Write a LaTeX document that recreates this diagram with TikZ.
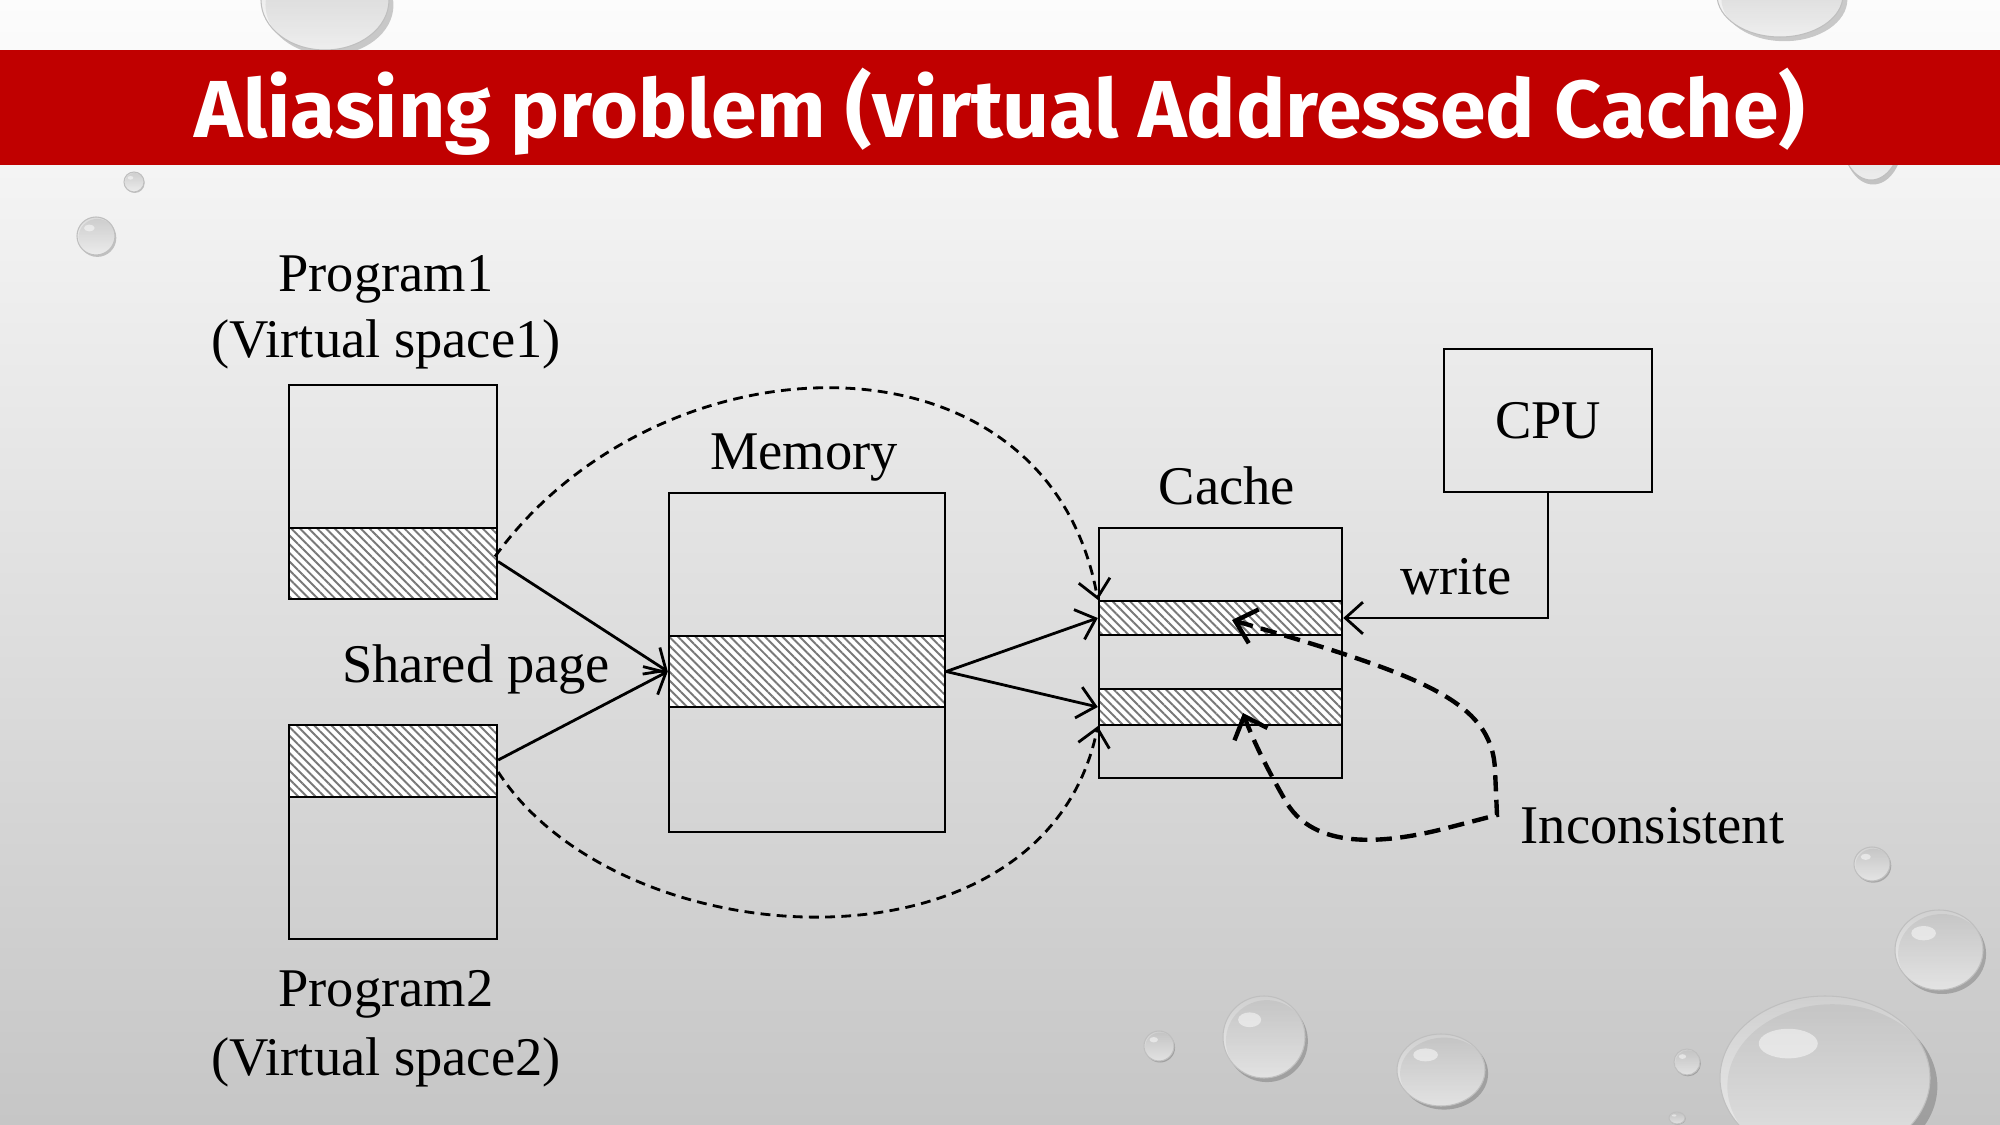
\documentclass[tikz,border=0pt]{standalone}
\usepackage{graphicx}
\usepackage{fontspec}
\setmainfont{Liberation Serif}
\newfontfamily\titlefont{Fira Sans}
\usetikzlibrary{arrows.meta,patterns.meta,calc}

\definecolor{bandred}{RGB}{192,0,0}
\definecolor{bgtop}{RGB}{252,252,252}
\definecolor{bgbot}{RGB}{198,198,198}
\definecolor{hatchgray}{RGB}{120,120,120}

\tikzset{
  labeltext/.style={font=\fontsize{15.5}{18}\selectfont, inner sep=0pt, anchor=base},
  block/.style={draw, line width=0.65pt, rectangle, inner sep=0pt},
  hatched/.style={block, preaction={fill=white},
    pattern={Lines[angle=-45,distance=1.75pt,line width=0.55pt]}, pattern color=hatchgray},
  link/.style={line width=0.8pt, -{Straight Barb[length=5pt,width=9pt]}},
  dlink/.style={link, dash pattern=on 2.8pt off 1.8pt},
  thickdash/.style={line width=1.25pt, dash pattern=on 4.6pt off 2.4pt,
    {Straight Barb[length=5.5pt,width=10pt]}-{Straight Barb[length=5.5pt,width=10pt]}},
}

% water droplet: centre x, centre y, x radius, y radius (all in px units)
\newcommand{\waterdrop}[4]{%
  \fill[black, opacity=0.2] (#1+0.07*#3, #2+0.10*#4)
    ellipse [x radius={#3*0.01cm}, y radius={#4*0.01cm}];
  \shade[top color=gray!35, bottom color=white, opacity=0.7] (#1,#2)
    ellipse [x radius={#3*0.01cm}, y radius={#4*0.01cm}];
  \draw[gray!50, line width=0.3pt] (#1,#2)
    ellipse [x radius={#3*0.01cm}, y radius={#4*0.01cm}];
  \fill[white, opacity=0.5] (#1-0.35*#3, #2-0.42*#4)
    ellipse [x radius={#3*0.0028cm}, y radius={#4*0.0018cm}];
}

\begin{document}
\begin{tikzpicture}[x=0.01cm, y=-0.01cm]
  \useasboundingbox (0,0) rectangle (2000,1125);
  % slide background
  \shade[top color=bgtop, bottom color=bgbot] (0,0) rectangle (2000,1125);

  % droplets
  \waterdrop{325}{0}{64}{50}
  \waterdrop{1780}{-5}{63}{42}
  \waterdrop{1871}{135}{30}{45}
  \waterdrop{134}{182}{10}{10}
  \waterdrop{96}{236}{19}{19}
  \waterdrop{1872}{864}{18}{17}
  \waterdrop{1939}{950}{44}{40}
  \waterdrop{1825}{1078}{105}{82}
  \waterdrop{1159}{1046}{15}{15}
  \waterdrop{1264}{1037}{41}{41}
  \waterdrop{1441}{1070}{44}{36}
  \waterdrop{1687}{1062}{13}{13}
  \waterdrop{1677}{1118}{8}{6}

  % title band
  \fill[bandred] (0,50) rectangle (2000,165);
  \node[inner sep=0pt, anchor=base, text=white] (title) at (1000,138)
    {\resizebox{16.1cm}{\height}{\titlefont\bfseries\fontsize{23}{26}\selectfont Aliasing problem (virtual Addressed Cache)}};

  % program 1
  \node[block, minimum width=2.08cm, minimum height=2.14cm] (p1) at (393,492) {};
  \node[hatched, minimum width=2.08cm, minimum height=0.71cm] (p1h) at (393,563.5) {};
  \node[labeltext] (p1a) at (386,291.7) {Program1};
  \node[labeltext] (p1b) at (386,358) {(Virtual space1)};

  % program 2
  \node[block, minimum width=2.08cm, minimum height=2.14cm] (p2) at (393,832) {};
  \node[hatched, minimum width=2.08cm, minimum height=0.72cm] (p2h) at (393,761) {};
  \node[labeltext] (p2a) at (386,1006.7) {Program2};
  \node[labeltext] (p2b) at (386,1075) {(Virtual space2)};

  % memory
  \node[block, minimum width=2.76cm, minimum height=3.39cm] (mem) at (807,662.5) {};
  \node[hatched, minimum width=2.76cm, minimum height=0.71cm] (memh) at (807,671.5) {};
  \node[labeltext] (memt) at (804,470) {Memory};
  \node[labeltext] (share) at (476,682.7) {Shared page};

  % cache
  \node[block, minimum width=2.43cm, minimum height=2.50cm] (cache) at (1220.5,653) {};
  \node[hatched, minimum width=2.43cm, minimum height=0.34cm] (c1) at (1220.5,618) {};
  \node[hatched, minimum width=2.43cm, minimum height=0.36cm] (c2) at (1220.5,707) {};
  \node[labeltext] (cachet) at (1227,505) {Cache};

  % cpu
  \node[block, minimum width=2.08cm, minimum height=1.43cm,
        font=\fontsize{15.5}{18}\selectfont] (cpu) at (1548,420.5) {CPU};
  \node[labeltext] (write) at (1456,595) {write};
  \node[labeltext, anchor=base west] (inc) at (1520,843) {Inconsistent};

  % shared page mapping
  \draw[link] ($(p1h.east)+(0,-2)$) -- (memh.west);
  \draw[link] ($(p2h.east)+(0,-1)$) -- (memh.west);
  \draw[link] (memh.east) -- (c1.west);
  \draw[link] (memh.east) -- (c2.west);

  % virtual addresses going straight to the cache
  \draw[dlink] ($(p1h.east)+(-3,-7)$) .. controls (660,330) and (1048,320) .. (c1.north west);
  \draw[dlink] ($(p2h.east)+(0,11)$) .. controls (620,960) and (1045,985) .. (c2.south west);

  % cpu write
  \draw[link] (cpu.south) |- (c1.east);

  % inconsistent copies
  \coordinate (k) at (1497,815);
  \coordinate (t1) at (1232,620);
  \coordinate (t2) at (1243,713);
  \draw[thickdash] (t1) .. controls (1420,675) and (1492,700) .. (1495,770) -- (k)
    -- (1447,828) .. controls (1370,848) and (1310,845) .. (1285,800)
    .. controls (1268,770) and (1255,745) .. (t2);
\end{tikzpicture}
\end{document}
